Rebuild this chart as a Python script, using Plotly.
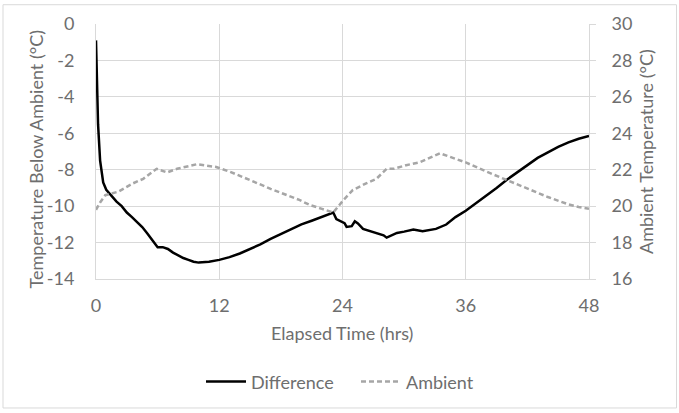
import plotly.graph_objects as go

# Elapsed time (hrs) and temperature difference below ambient (°C)
diff_time = [0, 0.1, 0.2, 0.4, 0.7, 1.0, 1.5, 2.0, 2.5, 3.0, 3.5, 4.0, 4.5, 5.0, 5.5, 6.0,
             6.5, 7.0, 7.5, 8.0, 8.5, 9.0, 9.5, 10.0, 10.5, 11.0, 12.0, 13.0, 14.0, 15.0,
             16.0, 17.0, 18.0, 19.0, 20.0, 21.0, 22.0, 23.1, 23.4, 24.2, 24.4, 24.9, 25.2,
             25.5, 26.0, 27.0, 28.0, 28.3, 29.3, 30.0, 30.9, 31.8, 33.1, 34.1, 35.0, 36.0,
             37.0, 38.0, 39.0, 40.0, 41.0, 42.0, 43.0, 44.0, 45.0, 46.0, 47.0, 48.0]
diff_vals = [-0.9, -3.0, -5.5, -7.5, -8.7, -9.1, -9.45, -9.75, -10.0, -10.35, -10.6, -10.85,
             -11.15, -11.5, -11.9, -12.25, -12.25, -12.35, -12.55, -12.7, -12.85, -12.95,
             -13.05, -13.1, -13.08, -13.05, -12.95, -12.8, -12.6, -12.37, -12.1, -11.8,
             -11.52, -11.25, -11.0, -10.8, -10.58, -10.35, -10.71, -10.93, -11.14, -11.1,
             -10.83, -10.95, -11.25, -11.43, -11.6, -11.73, -11.47, -11.4, -11.29, -11.38,
             -11.25, -11.01, -10.6, -10.25, -9.85, -9.4, -9.0, -8.55, -8.15, -7.75, -7.35,
             -7.05, -6.75, -6.5, -6.3, -6.15]

# Elapsed time (hrs) and ambient temperature (°C)
amb_time = [0, 0.4, 0.9, 2.2, 3.6, 4.6, 5.9, 6.9, 7.9, 9.8, 11.7, 13.0, 15.0, 17.0, 19.8,
            20.8, 22.0, 23.1, 24.1, 25.0, 26.3, 27.3, 28.3, 29.0, 30.2, 31.5, 33.5, 36.0,
            38.0, 40.0, 42.0, 44.0, 46.0, 47.0, 48.0]
amb_vals = [19.8, 20.2, 20.6, 20.8, 21.25, 21.5, 22.05, 21.85, 22.05, 22.3, 22.15, 21.9,
            21.43, 20.95, 20.34, 20.07, 19.85, 19.65, 20.34, 20.88, 21.25, 21.5, 22.05,
            22.05, 22.25, 22.4, 22.9, 22.4, 21.9, 21.43, 20.95, 20.5, 20.1, 19.95, 19.85]

x_ticks = [0, 12, 24, 36, 48]
y_left_ticks = [0, -2, -4, -6, -8, -10, -12, -14]
y_right_ticks = [30, 28, 26, 24, 22, 20, 18, 16]

FONT = "Lato"
TXT = "#6e6e6e"
GRID = "#d9d9d9"
FS = 18

fig = go.Figure()
fig.add_trace(go.Scatter(x=diff_time, y=diff_vals, mode="lines", name="Difference",
                         line=dict(color="black", width=2.5)))
fig.add_trace(go.Scatter(x=amb_time, y=amb_vals, mode="lines", name="Ambient", yaxis="y2",
                         line=dict(color="#a6a6a6", width=2.5, dash="5px,3px")))

L, R, T, B = 96, 90, 22, 133
W, H = 679, 413
pw, ph = W - L - R, H - T - B

def px(xp):
    return (xp - L) / pw

def py(yp):
    return 1 - (yp - T) / ph

fig.update_layout(
    width=W, height=H,
    margin=dict(l=L, r=R, t=T, b=B),
    paper_bgcolor="white", plot_bgcolor="white",
    font=dict(family=FONT, size=FS, color=TXT),
    showlegend=True,
    legend=dict(orientation="h", x=px(201), xanchor="left", y=py(384), yanchor="middle",
                font=dict(size=FS, color=TXT), itemwidth=40, traceorder="normal",
                entrywidth=100, entrywidthmode="pixels"),
    xaxis=dict(range=[0, 48], tickvals=x_ticks, ticktext=[str(v) for v in x_ticks],
               showgrid=True, gridcolor=GRID, gridwidth=1, zeroline=False,
               showline=True, linecolor=GRID, ticks="", ticklabelstandoff=10),
    yaxis=dict(range=[-14, 0], tickvals=y_left_ticks, ticktext=[str(v) for v in y_left_ticks],
               showgrid=True, gridcolor=GRID, gridwidth=1, zeroline=False,
               showline=True, linecolor=GRID, ticks="", ticklabelstandoff=17),
    yaxis2=dict(range=[16, 30], tickvals=y_right_ticks, ticktext=[str(v) for v in y_right_ticks],
                overlaying="y", side="right", showgrid=False, zeroline=False,
                showline=True, linecolor=GRID, ticks="outside", ticklen=6, tickcolor=GRID,
                ticklabelstandoff=12),
    annotations=[
        dict(text="Temperature Below Ambient (°C)", xref="paper", yref="paper",
             x=px(36), y=py(159), textangle=-90, showarrow=False,
             xanchor="center", yanchor="middle", font=dict(size=FS, color=TXT)),
        dict(text="Ambient Temperature (°C)", xref="paper", yref="paper",
             x=px(645.5), y=py(151), textangle=-90, showarrow=False,
             xanchor="center", yanchor="middle", font=dict(size=FS, color=TXT)),
        dict(text="Elapsed Time (hrs)", xref="paper", yref="paper",
             x=px(341.5), y=py(335), showarrow=False,
             xanchor="center", yanchor="middle", font=dict(size=FS, color=TXT)),
    ],
    shapes=[dict(type="rect", xref="paper", yref="paper",
                 x0=px(3), x1=px(676.5), y0=py(410.5), y1=py(2.5),
                 line=dict(color=GRID, width=1), fillcolor="rgba(0,0,0,0)", layer="below")],
)

fig.write_html("out.html")
